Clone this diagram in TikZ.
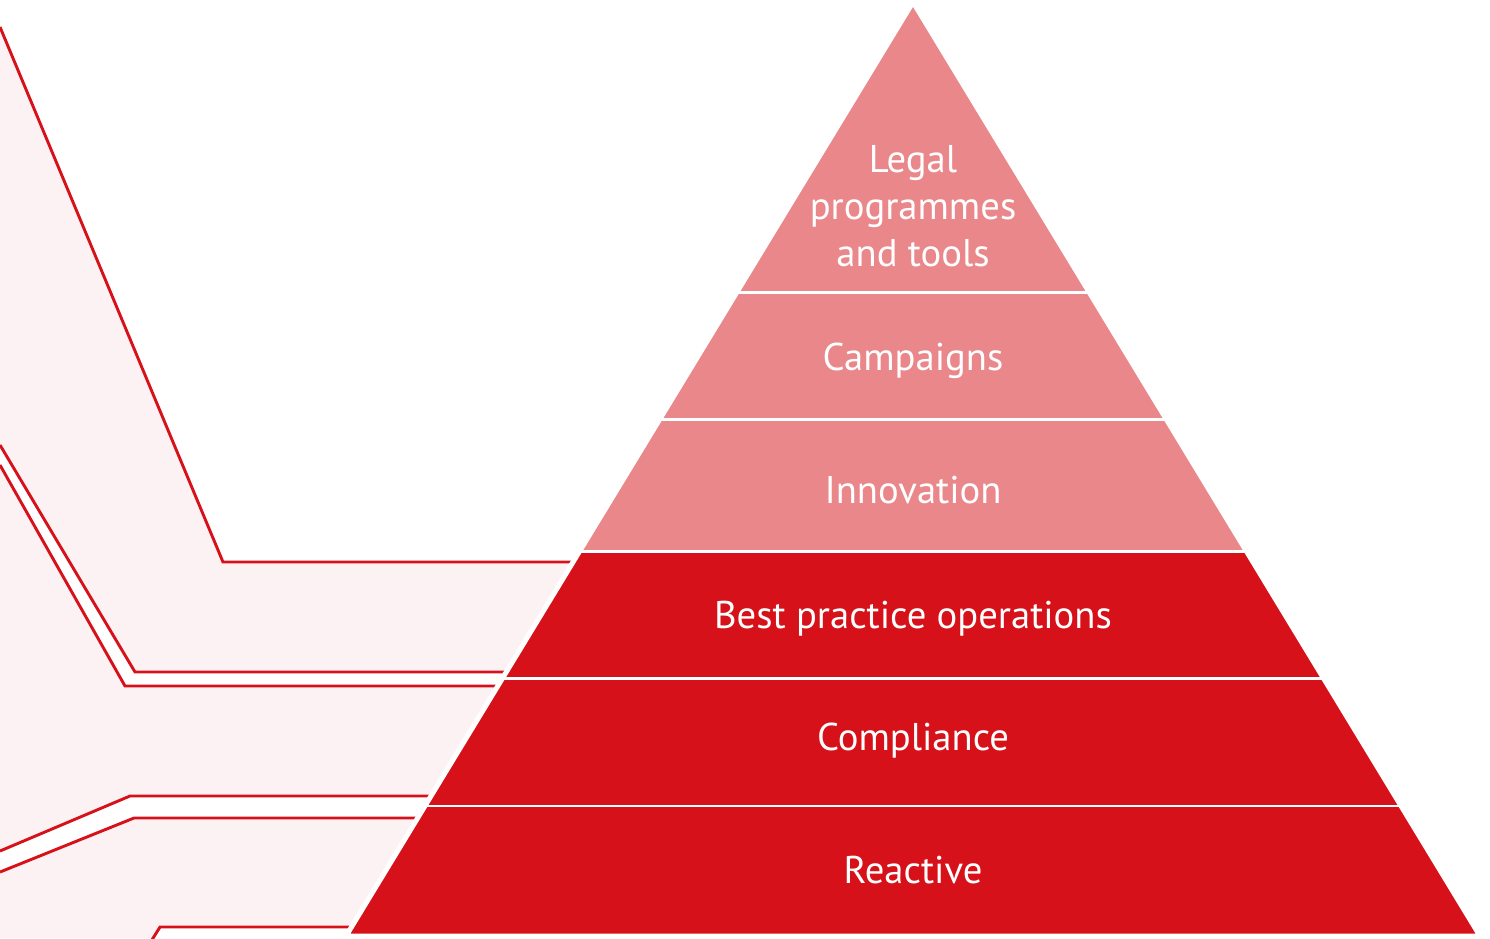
\documentclass[tikz,border=0pt]{standalone}
\usepackage{fontspec}
\setmainfont{PT Sans}
\usepackage{tikz}
\usetikzlibrary{calc}
\definecolor{pyrdark}{HTML}{D61119}
\definecolor{pyrlight}{HTML}{E9878A}
\definecolor{bandpink}{HTML}{FCF1F3}
\tikzset{
  band/.style={fill=bandpink},
  rim/.style={draw=pyrdark, line width=1.65pt},
  gap/.style={draw=white, line width=1.7pt},
  tier/.style={text=white, font=\fontsize{22}{26.8}\selectfont, align=center}
}

\begin{document}
\begin{tikzpicture}[x=0.02cm, y=-0.02cm]
  \useasboundingbox (0,0) rectangle (1490,938);
  \clip (0,0) rectangle (1490,938);
  % pale bands on the left
  \fill[band] (0,27) -- (223,562) -- (600,562) -- (600,672) -- (135,672) -- (0,445) -- cycle;
  \fill[band] (0,465) -- (125,686) -- (520,686) -- (520,796) -- (130,796) -- (0,851) -- cycle;
  \fill[band] (0,872) -- (134,818) -- (440,818) -- (440,927) -- (160,927) -- (153,938) -- (0,938) -- cycle;
  \draw[rim] (0,27) -- (223,562) -- (590,562);
  \draw[rim] (0,445) -- (135,672) -- (530,672);
  \draw[rim] (0,465) -- (125,686) -- (520,686);
  \draw[rim] (0,851) -- (130,796) -- (450,796);
  \draw[rim] (0,872) -- (134,818) -- (440,818);
  \draw[rim] (150,943) -- (160,927) -- (370,927);
  % pyramid
  \coordinate (apex) at (913,2);
  \coordinate (bl) at (346,936);
  \coordinate (br) at (1480,936);
  \fill[pyrdark] (apex) -- (bl) -- (br) -- cycle;
  \fill[pyrlight] (apex) -- ($(apex)!0.5878!(bl)$) -- ($(apex)!0.5878!(br)$) -- cycle;
  \foreach \f in {0.311,0.447,0.5878,0.7243,0.8608}
    \draw[gap] ($(apex)!\f!(bl)$) -- ($(apex)!\f!(br)$);
  \draw[gap, line width=2.85pt, line join=round] (apex) -- (bl) -- (br) -- cycle;
  % labels
  \node[tier] (legal) at (913,206) {Legal\\programmes\\and tools};
  \node[tier, anchor=base] (campaigns) at (913,370) {Campaigns};
  \node[tier, anchor=base] (innovation) at (913,503) {Innovation};
  \node[tier, anchor=base] (practice) at (913,628) {Best practice operations};
  \node[tier, anchor=base] (compliance) at (913,750) {Compliance};
  \node[tier, anchor=base] (reactive) at (913,883) {Reactive};
\end{tikzpicture}
\end{document}
